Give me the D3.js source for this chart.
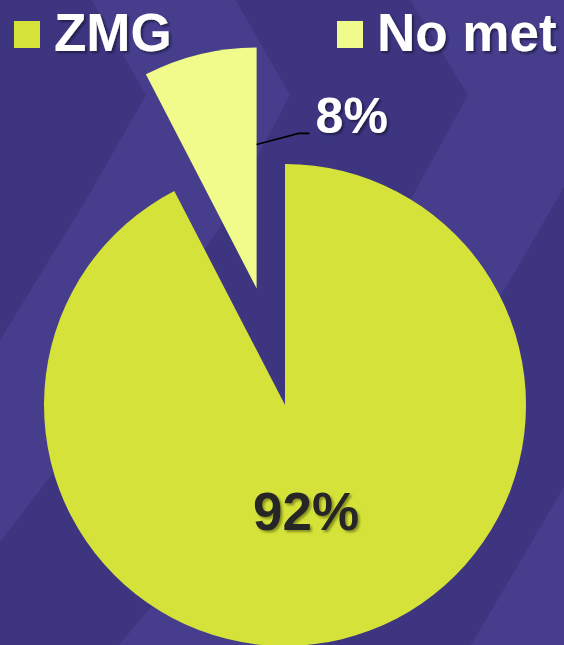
<!DOCTYPE html>
<html>
<head>
<meta charset="utf-8">
<script src="https://cdn.jsdelivr.net/npm/d3@7"></script>
<style>
html,body{margin:0;padding:0;background:#3d3580;overflow:hidden;}
svg{display:block;}
</style>
</head>
<body>
<script>
// ---- data ----
const categories = ["ZMG", "No met"];
const values = [92.4, 7.6];
const labels = ["92%", "8%"];
const colors = ["#d4e23a", "#f0fb8b"];

const W = 564, H = 645;
const svg = d3.select("body").append("svg").attr("width", W).attr("height", H);

const defs = svg.append("defs");
const f1 = defs.append("filter").attr("id","shW").attr("x","-20%").attr("y","-20%").attr("width","150%").attr("height","150%");
f1.append("feDropShadow").attr("dx",2).attr("dy",2).attr("stdDeviation",1).attr("flood-color","#1a1640").attr("flood-opacity",0.8);
const f2 = defs.append("filter").attr("id","shD").attr("x","-20%").attr("y","-20%").attr("width","150%").attr("height","150%");
f2.append("feDropShadow").attr("dx",2).attr("dy",2).attr("stdDeviation",1).attr("flood-color","#6b7016").attr("flood-opacity",0.7);

// ---- background chevrons ----
svg.append("rect").attr("width",W).attr("height",H).attr("fill","#3d3580");
const L1 = [[86,-10],[146,95],[86,200],[0,340],[-100,480]];
const L2 = [[230,-10],[290,95],[220,227],[50,477],[0,542],[-60,620]];
const L3 = [[404,-10],[468,95],[412,197],[151,607],[119,645],[110,660]];
const L4 = [[680,-10],[617,95],[564,187],[512,277],[300,620],[280,660]];
const L5 = [[800,100],[564,487],[471,645],[460,660],[800,660]];
const bands = [L1.concat(L2.slice().reverse()), L3.concat(L4.slice().reverse()), L5];
svg.append("g").selectAll("path").data(bands).join("path")
  .attr("d", d => d3.line()(d) + "Z")
  .attr("fill","#463e8c");

// ---- pie ----
const cx = 285, cy = 405, R = 241, explode = 120;
const pie = d3.pie().sort(null).value(d => d)(values);
const arc = d3.arc().innerRadius(0).outerRadius(R);
const g = svg.append("g").attr("transform", `translate(${cx},${cy})`);

function offset(d, i) {
  if (i !== 1) return [0,0];
  const a = (d.startAngle + d.endAngle) / 2;
  return [Math.sin(a) * explode, -Math.cos(a) * explode];
}

g.selectAll("path.slice").data(pie).join("path")
  .attr("class","slice")
  .attr("d", arc)
  .attr("fill", (d,i) => colors[i])
  .attr("transform", (d,i) => { const o = offset(d,i); return `translate(${o[0]},${o[1]})`; });

// 92% label inside
const labelArc = d3.arc().innerRadius(110).outerRadius(110);
const c0 = labelArc.centroid(pie[0]);
g.append("text")
  .attr("x", c0[0] - 5).attr("y", c0[1] + 18)
  .attr("text-anchor","middle")
  .attr("font-family","Liberation Sans, Arial, sans-serif")
  .attr("font-weight","bold").attr("font-size",53)
  .attr("fill","#262626").attr("filter","url(#shD)")
  .text(labels[0]);

// 8% label outside with leader
const o1 = offset(pie[1],1);
const edgeX = o1[0], edgeY = o1[1] - 144; // point on right edge of exploded slice
const pts = [[edgeX, edgeY], [edgeX + 42, edgeY - 11], [edgeX + 53, edgeY - 11]];
g.append("path").attr("d", d3.line()(pts)).attr("fill","none").attr("stroke","#000").attr("stroke-width",1.6);
g.append("text")
  .attr("x", pts[2][0] + 6).attr("y", pts[2][1])
  .attr("font-family","Liberation Sans, Arial, sans-serif")
  .attr("font-weight","bold").attr("font-size",50)
  .attr("fill","#ffffff").attr("filter","url(#shW)")
  .text(labels[1]);

// ---- legend ----
const legX = d3.scaleOrdinal().domain(categories).range([14, 337]);
const leg = svg.append("g").selectAll("g").data(categories).join("g")
  .attr("transform", d => `translate(${legX(d)},21)`);
leg.append("rect").attr("width",26).attr("height",27).attr("fill",(d,i)=>colors[i]);
leg.append("text")
  .attr("x", 40).attr("y", 30)
  .attr("font-family","Liberation Sans, Arial, sans-serif")
  .attr("font-weight","bold").attr("font-size",53)
  .attr("fill","#ffffff").attr("filter","url(#shW)")
  .text(d => d);
</script>
</body>
</html>
